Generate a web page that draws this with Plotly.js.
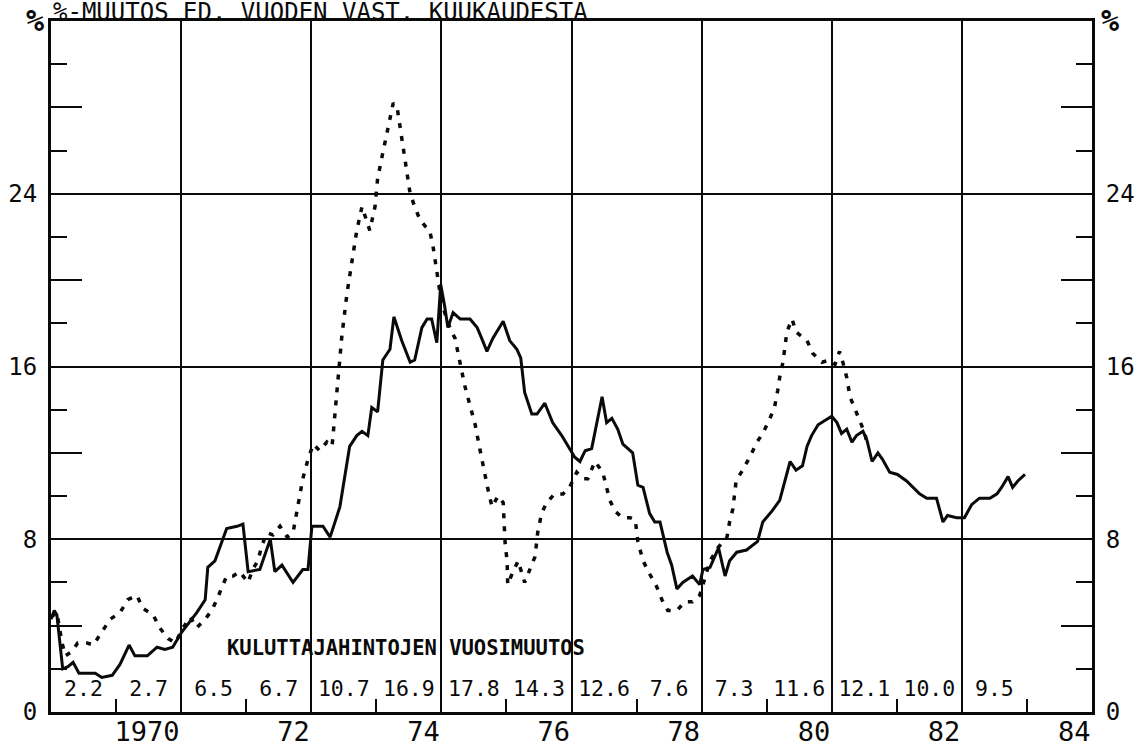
<!DOCTYPE html>
<html>
<head>
<meta charset="utf-8">
<script src="https://cdn.plot.ly/plotly-3.0.1.min.js"></script>
<style>
html,body{margin:0;padding:0;background:#fff;}
#chart{width:1141px;height:746px;}
</style>
</head>
<body>
<div id="chart"></div>
<script>
// Consumer price index, year-on-year change (%), solid line
const cpiYears = [1969.00,1969.05,1969.09,1969.18,1969.26,1969.34,1969.43,1969.68,1969.78,1969.94,
  1970.06,1970.20,1970.29,1970.48,1970.63,1970.75,1970.87,1971.01,1971.24,1971.37,
  1971.41,1971.52,1971.70,1971.86,1971.95,1972.03,1972.21,1972.37,1972.44,1972.55,
  1972.72,1972.87,1972.95,1973.01,1973.18,1973.29,1973.44,1973.52,1973.59,1973.70,
  1973.78,1973.87,1973.93,1974.02,1974.10,1974.21,1974.27,1974.39,1974.52,1974.59,
  1974.70,1974.78,1974.85,1974.93,1974.99,1975.05,1975.10,1975.18,1975.29,1975.44,
  1975.55,1975.62,1975.70,1975.79,1975.95,1976.05,1976.16,1976.22,1976.28,1976.39,
  1976.47,1976.59,1976.71,1976.85,1976.97,1977.05,1977.13,1977.21,1977.31,1977.47,
  1977.54,1977.62,1977.71,1977.79,1977.94,1978.02,1978.10,1978.20,1978.28,1978.36,
  1978.47,1978.54,1978.62,1978.71,1978.86,1978.97,1979.02,1979.13,1979.26,1979.36,
  1979.43,1979.54,1979.69,1979.86,1979.94,1980.08,1980.20,1980.28,1980.36,1980.45,
  1980.55,1980.62,1980.69,1980.79,1981.00,1981.08,1981.15,1981.23,1981.31,1981.38,
  1981.48,1981.54,1981.62,1981.71,1981.78,1981.89,1982.01,1982.15,1982.35,1982.46,
  1982.61,1982.71,1982.78,1982.92,1983.04,1983.15,1983.27,1983.43,1983.54,1983.61,
  1983.71,1983.78,1983.86,1983.97];
const cpiValues = [4.3,4.7,4.5,2.0,2.1,2.3,1.8,1.8,1.6,1.7,
  2.2,3.1,2.6,2.6,3.0,2.9,3.0,3.7,4.6,5.2,
  6.7,7.0,8.5,8.6,8.7,6.5,6.6,8.0,6.5,6.8,
  6.0,6.6,6.6,8.6,8.6,8.1,9.5,11.1,12.3,12.8,
  13.0,12.8,14.1,13.9,16.3,16.8,18.3,17.2,16.2,16.3,
  17.8,18.2,18.2,17.1,19.8,18.8,17.8,18.5,18.2,18.2,
  17.8,17.3,16.7,17.3,18.1,17.2,16.8,16.4,14.8,13.8,
  13.8,14.3,13.4,12.8,12.2,11.8,11.6,12.1,12.2,14.6,
  13.4,13.6,13.1,12.4,12.0,10.5,10.4,9.2,8.8,8.8,
  7.4,6.8,5.7,6.0,6.3,5.9,6.6,6.7,7.6,6.3,
  7.0,7.4,7.5,7.9,8.8,9.3,9.8,10.7,11.6,11.2,
  11.4,12.3,12.8,13.3,13.7,13.4,12.9,13.1,12.5,12.8,
  13.0,12.6,11.6,12.0,11.7,11.1,11.0,10.7,10.1,9.9,
  9.9,8.8,9.1,9.0,9.0,9.6,9.9,9.9,10.1,10.4,
  10.9,10.4,10.7,11.0];

// Second series (dotted line)
const dotYears = [1969.00,1969.09,1969.17,1969.22,1969.32,1969.41,1969.55,1969.65,1969.78,1969.91,
  1970.06,1970.18,1970.32,1970.41,1970.57,1970.67,1970.80,1970.91,1971.03,1971.14,
  1971.24,1971.37,1971.47,1971.55,1971.63,1971.70,1971.80,1971.90,1972.03,1972.10,
  1972.18,1972.24,1972.32,1972.41,1972.52,1972.63,1972.72,1972.80,1972.87,1972.95,
  1973.03,1973.13,1973.24,1973.32,1973.36,1973.41,1973.47,1973.55,1973.63,1973.70,
  1973.78,1973.86,1973.90,1973.98,1974.02,1974.10,1974.18,1974.26,1974.32,1974.36,
  1974.41,1974.47,1974.52,1974.59,1974.67,1974.75,1974.82,1974.87,1974.93,1974.98,
  1975.05,1975.13,1975.21,1975.28,1975.36,1975.44,1975.52,1975.59,1975.67,1975.73,
  1975.78,1975.87,1975.95,1975.98,1976.01,1976.02,1976.10,1976.18,1976.28,1976.36,
  1976.44,1976.48,1976.54,1976.62,1976.74,1976.87,1976.97,1977.08,1977.17,1977.25,
  1977.36,1977.48,1977.54,1977.59,1977.67,1977.78,1977.90,1977.98,1978.02,1978.10,
  1978.20,1978.31,1978.39,1978.48,1978.62,1978.74,1978.86,1978.97,1979.13,1979.25,
  1979.39,1979.43,1979.48,1979.53,1979.63,1979.74,1979.85,1979.94,1980.05,1980.12,
  1980.17,1980.20,1980.25,1980.28,1980.31,1980.39,1980.45,1980.62,1980.71,1980.85,
  1980.97,1981.05,1981.12,1981.17,1981.23,1981.28,1981.36,1981.43,1981.51,1981.55];
const dotValues = [4.4,4.6,3.2,2.6,2.8,3.2,3.2,3.1,3.7,4.3,
  4.6,5.2,5.4,4.8,4.5,3.9,3.4,3.2,3.9,4.4,
  3.9,4.3,4.7,5.2,5.8,6.3,6.3,6.5,6.0,6.6,
  7.0,7.7,8.3,8.2,8.6,8.1,8.3,9.6,10.8,11.7,
  12.4,12.1,12.5,12.3,13.7,15.7,17.4,19.4,20.9,22.3,
  23.4,22.7,22.3,23.4,24.7,25.9,27.0,28.2,28.0,27.3,
  26.2,25.0,24.0,23.4,22.8,22.5,22.3,21.6,20.5,19.4,
  18.5,17.8,17.3,16.2,15.1,14.2,13.3,12.2,10.9,10.1,
  9.5,10.0,9.7,7.8,7.0,5.9,6.5,7.0,6.0,6.6,
  7.2,8.3,9.2,9.7,10.1,10.1,10.4,11.1,10.8,10.8,
  11.6,11.1,10.4,9.8,9.3,9.0,9.0,8.9,7.9,7.0,
  6.4,5.8,5.2,4.7,4.7,5.1,5.1,5.4,7.0,7.6,
  8.1,8.8,9.4,10.7,11.2,11.8,12.5,12.9,13.6,14.1,
  14.9,15.5,16.2,16.9,17.6,18.2,17.6,17.2,16.6,16.2,
  16.3,16.1,16.7,16.2,15.5,14.6,14.0,13.5,12.9,12.3];

// Annual average changes written along the bottom
const annualYears = [1969,1970,1971,1972,1973,1974,1975,1976,1977,1978,1979,1980,1981,1982,1983];
const annualLabels = ['2.2','2.7','6.5','6.7','10.7','16.9','17.8','14.3','12.6','7.6','7.3','11.6','12.1','10.0','9.5'];

// Axis tick labels
const xTickYears = [1971,1973,1975,1977,1979,1981,1983,1985];
const xTickLabels = ['1970','72','74','76','78','80','82','84'];
const xMinorYears = [1970,1972,1974,1976,1978,1980,1982,1984];
const yTickVals = [0,4,8,12,16,20,24,28];
const yTickLabels = ['0','','8','','16','','24',''];
const yMinorVals = [2,6,10,14,18,22,26,30];
const yGridVals = [8,16,24];

const FONT = 'DejaVu Sans Mono, Liberation Mono, monospace';
const INK = '#0a0a0a';
const labelLevel = 1.0;

const traces = [
  {x: cpiYears, y: cpiValues, type: 'scatter', mode: 'lines',
   line: {color: INK, width: 3}, hoverinfo: 'skip', showlegend: false},
  {x: dotYears, y: dotValues, type: 'scatter', mode: 'lines',
   line: {color: INK, width: 3.5, dash: '5px,8px'}, hoverinfo: 'skip', showlegend: false},
  {x: annualYears.map(v => v + 0.5), y: annualYears.map(() => labelLevel),
   text: annualLabels, type: 'scatter', mode: 'text',
   textfont: {family: FONT, size: 21.5, color: INK}, textposition: 'middle center',
   hoverinfo: 'skip', showlegend: false, cliponaxis: false}
];

const yBase = {
  range: [0, 32], tickmode: 'array', tickvals: yTickVals, ticktext: yTickLabels,
  ticks: 'inside', ticklen: 31, tickwidth: 2, tickcolor: INK,
  showgrid: false, zeroline: false, showline: true, linecolor: INK, linewidth: 3,
  tickfont: {family: FONT, size: 24, color: INK}, ticklabelstandoff: 6,
  minor: {tickmode: 'array', tickvals: yMinorVals, ticks: 'inside', ticklen: 16,
          tickwidth: 2, tickcolor: INK, showgrid: false},
  fixedrange: true
};

const layout = {
  width: 1141, height: 746,
  margin: {l: 51, r: 49, t: 21, b: 34, pad: 0},
  paper_bgcolor: '#ffffff', plot_bgcolor: '#ffffff',
  showlegend: false,
  xaxis: {
    range: [1969, 1985], tickmode: 'array', tickvals: xTickYears, ticktext: xTickLabels,
    ticks: '', showgrid: true, gridcolor: INK, gridwidth: 2,
    showline: true, linecolor: INK, linewidth: 3, mirror: true, zeroline: false,
    ticklabelposition: 'outside left', ticklabelstandoff: -6,
    tickfont: {family: FONT, size: 27, color: INK},
    minor: {tickmode: 'array', tickvals: xMinorYears, ticks: 'inside', ticklen: 13,
            tickwidth: 2, tickcolor: INK, showgrid: false},
    fixedrange: true
  },
  yaxis: Object.assign({}, yBase, {side: 'left'}),
  yaxis2: Object.assign({}, yBase, {side: 'right', overlaying: 'y'}),
  yaxis3: {range: [0, 32], overlaying: 'y', side: 'left', tickmode: 'array',
           tickvals: yGridVals, showticklabels: false, ticks: '', showgrid: true,
           gridcolor: INK, gridwidth: 2, zeroline: false, showline: false, fixedrange: true},
  annotations: [
    {text: '%-MUUTOS ED. VUODEN VAST. KUUKAUDESTA', xref: 'paper', yref: 'paper',
     x: 0.0, y: 1, xanchor: 'left', yanchor: 'bottom', yshift: -7, showarrow: false,
     font: {family: FONT, size: 24, color: INK}},
    {text: '<b>%</b>', xref: 'paper', yref: 'paper', x: -0.0154, y: 1, xanchor: 'center',
     yanchor: 'middle', yshift: 1, showarrow: false, font: {family: FONT, size: 30, color: INK}},
    {text: '<b>%</b>', xref: 'paper', yref: 'paper', x: 1.0173, y: 1, xanchor: 'center',
     yanchor: 'middle', yshift: 1, showarrow: false, font: {family: FONT, size: 30, color: INK}},
    {text: '<b>KULUTTAJAHINTOJEN VUOSIMUUTOS</b>', xref: 'x', yref: 'y', x: 1971.67, y: 2.97,
     xanchor: 'left', yanchor: 'middle', showarrow: false,
     font: {family: FONT, size: 20.5, color: INK}}
  ]
};

// empty traces so the overlaying axes are drawn
traces.push({x: [1969], y: [null], yaxis: 'y2', type: 'scatter', mode: 'lines', hoverinfo: 'skip', showlegend: false});
traces.push({x: [1969], y: [null], yaxis: 'y3', type: 'scatter', mode: 'lines', hoverinfo: 'skip', showlegend: false});

Plotly.newPlot('chart', traces, layout, {staticPlot: true, displayModeBar: false});
</script>
</body>
</html>
